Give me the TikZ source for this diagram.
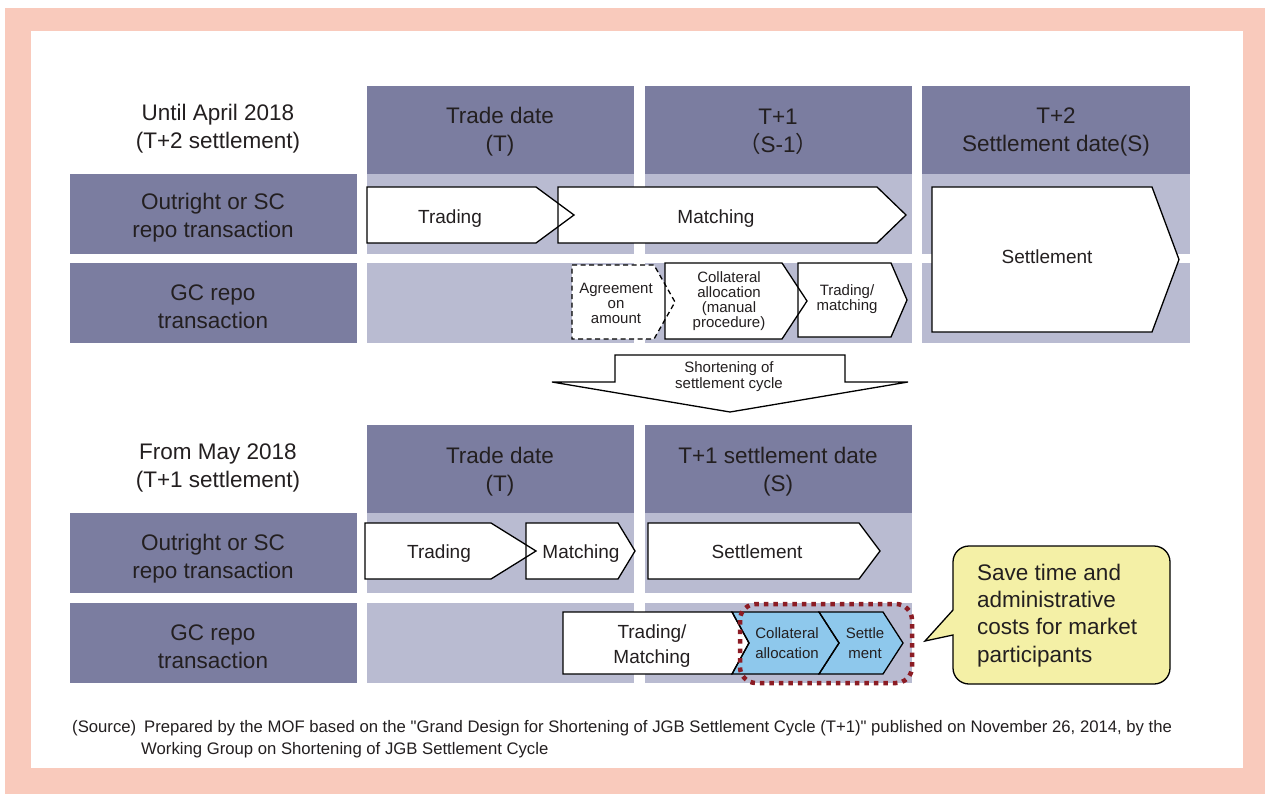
\documentclass[tikz,border=0pt]{standalone}
\usepackage{fontspec}
\setmainfont{Liberation Sans}[Ligatures=TeXOff]
\newfontfamily\cjkfont{Noto Sans CJK JP}
\definecolor{pinkc}{HTML}{F9CABC}
\definecolor{darkc}{HTML}{7B7DA0}
\definecolor{lightc}{HTML}{B9BBD1}
\definecolor{bluec}{HTML}{8EC8EC}
\definecolor{yellowc}{HTML}{F4F0A6}
\definecolor{redc}{HTML}{8C1C24}
\definecolor{txtc}{HTML}{231F20}
\newcommand\chevfill[7]{\fill[#7] (#1,#4) -- (#2,#4) -- (#3,{(#4+#5)/2}) -- (#2,#5) -- (#1,#5) -- (#6,{(#4+#5)/2}) -- cycle;}
\newcommand\chevline[7]{\draw[line width=1.3pt, line join=miter, #7] (#1,#4) -- (#2,#4) -- (#3,{(#4+#5)/2}) -- (#2,#5) -- (#1,#5) -- (#6,{(#4+#5)/2}) -- cycle;}
\tikzset{
  hdr/.style={font=\fontsize{22.5}{28}\selectfont, align=center, text=txtc, inner sep=0pt},
  arrtxt/.style={font=\fontsize{19}{25}\selectfont, align=center, text=txtc, inner sep=0pt},
  smtxt/.style={font=\fontsize{15}{15}\selectfont, align=center, text=txtc, inner sep=0pt},
  bltxt/.style={font=\fontsize{15}{19.5}\selectfont, align=center, text=txtc, inner sep=0pt},
  srctxt/.style={font=\fontsize{16.7}{22}\selectfont, align=left, text=txtc, inner sep=0pt},
}
\begin{document}
\begin{tikzpicture}[x=1pt,y=-1pt]
\useasboundingbox (0,0) rectangle (1265,794);
\fill[white] (0,0) rectangle (1265,794);
\fill[pinkc] (5,8) rectangle (1265,794);
\fill[white] (31,31) rectangle (1243,768);

% ---------- Until April 2018 ----------
\foreach \a/\b in {367/634,645/912,922/1190}{
  \fill[darkc] (\a,86) rectangle (\b,174);
  \fill[lightc] (\a,174) rectangle (\b,254);
  \fill[lightc] (\a,263) rectangle (\b,343);
}
\fill[darkc] (70,174) rectangle (357,254);
\fill[darkc] (70,263) rectangle (357,343);

\node[hdr] (until) at (218,129) {Until April 2018\\(T+2 settlement)};
\node[hdr] (h1) at (500,132) {Trade date\\(T)};
\node[hdr] (h2) at (778,132) {T+1\\{\cjkfont （}S-1{\cjkfont ）}};
\node[hdr] (h3) at (1056,132) {T+2\\Settlement date(S)};
\node[hdr] (r1) at (213,218) {Outright or SC\\repo transaction};
\node[hdr] (r2) at (213,307) {GC repo\\transaction};

% fills first
\chevfill{367}{536}{574}{187}{243}{367}{white}
\chevfill{558}{877}{906}{187}{243}{558}{white}
\chevfill{572}{654}{675}{265}{339}{572}{white}
\chevfill{665}{782}{807}{263}{339}{665}{white}
\chevfill{798}{891}{907}{263}{337}{798}{white}
\chevfill{932}{1152}{1179}{187}{332}{932}{white}
% outlines
\chevline{367}{536}{574}{187}{243}{367}{black}
\chevline{558}{877}{906}{187}{243}{558}{black}
\chevline{665}{782}{807}{263}{339}{665}{black}
\chevline{798}{891}{907}{263}{337}{798}{black}
\chevline{572}{654}{675}{265}{339}{572}{black, dash pattern=on 5pt off 3.5pt}
\chevline{932}{1152}{1179}{187}{332}{932}{black}

\node[arrtxt] (tr1) at (450,219) {Trading};
\node[arrtxt] (ma1) at (716,219) {Matching};
\node[smtxt] (agr) at (616,303) {Agreement\\on\\amount};
\node[smtxt] (col1) at (729,301) {Collateral\\allocation\\(manual\\procedure)};
\node[smtxt] (tm1) at (847,299.5) {Trading/\\matching};
\node[arrtxt] (st1) at (1047,257) {Settlement};

% ---------- shortening arrow ----------
\draw[line width=1.3pt, fill=white, line join=miter] (615,355) -- (845,355) -- (845,382) -- (908,382) -- (730,412) -- (552,382) -- (615,382) -- cycle;
\node[smtxt, font=\fontsize{15}{16}\selectfont] (short) at (729,377) {Shortening of\\settlement cycle};

% ---------- From May 2018 ----------
\foreach \a/\b in {367/634,645/912}{
  \fill[darkc] (\a,425) rectangle (\b,513);
  \fill[lightc] (\a,513) rectangle (\b,593);
  \fill[lightc] (\a,603) rectangle (\b,683);
}
\fill[darkc] (70,513) rectangle (357,593);
\fill[darkc] (70,603) rectangle (357,683);

\node[hdr] (from) at (218,468) {From May 2018\\(T+1 settlement)};
\node[hdr] (g1) at (500,472) {Trade date\\(T)};
\node[hdr] (g2) at (778,472) {T+1 settlement date\\(S)};
\node[hdr] (s1) at (213,559) {Outright or SC\\repo transaction};
\node[hdr] (s2) at (213,647) {GC repo\\transaction};

\chevfill{365}{491}{536}{523}{579}{365}{white}
\chevfill{526}{618}{635}{523}{579}{526}{white}
\chevfill{648}{859}{880}{523}{579}{648}{white}
\chevfill{563}{732}{749}{612}{674}{563}{white}
\chevfill{732}{819}{839}{612}{674}{749}{bluec}
\chevfill{819}{883}{903}{612}{674}{839}{bluec}
\chevline{365}{491}{536}{523}{579}{365}{black}
\chevline{526}{618}{635}{523}{579}{526}{black}
\chevline{648}{859}{880}{523}{579}{648}{black}
\chevline{563}{732}{749}{612}{674}{563}{black}
\chevline{732}{819}{839}{612}{674}{749}{black}
\chevline{819}{883}{903}{612}{674}{839}{black}

\node[arrtxt] (tr2) at (439,554) {Trading};
\node[arrtxt] (ma2) at (581,554) {Matching};
\node[arrtxt] (st2) at (757,552) {Settlement};
\node[arrtxt] (tm2) at (652,646) {Trading/\\Matching};
\node[bltxt] (col2) at (787,643) {Collateral\\allocation};
\node[bltxt] (set2) at (865,643) {Settle\\ment};

\draw[redc, line width=4.5pt, dash pattern=on 4.5pt off 5pt, rounded corners=16] (740,604) rectangle (912,683);

% ---------- callout ----------
\draw[line width=1.3pt, fill=yellowc] (953,600) [rounded corners=16]-- (953,546) -- (1170,546) -- (1170,684) -- (953,684) [sharp corners]-- (953,635) -- (925,641) -- (953,610) -- cycle;
\node[font=\fontsize{22.5}{27.3}\selectfont, align=left, text=txtc, inner sep=0pt, anchor=west] (call) at (977,615.5) {Save time and\\administrative\\costs for market\\participants};

% ---------- source ----------
\node[srctxt, anchor=base west] (src) at (72,732) {(Source)};
\node[srctxt, anchor=base west] (srcl1) at (144,732) {Prepared by the MOF based on the "Grand Design for Shortening of JGB Settlement Cycle (T+1)" published on November 26, 2014, by the};
\node[srctxt, anchor=base west] (srcl2) at (141,754) {Working Group on Shortening of JGB Settlement Cycle};
\end{tikzpicture}
\end{document}
